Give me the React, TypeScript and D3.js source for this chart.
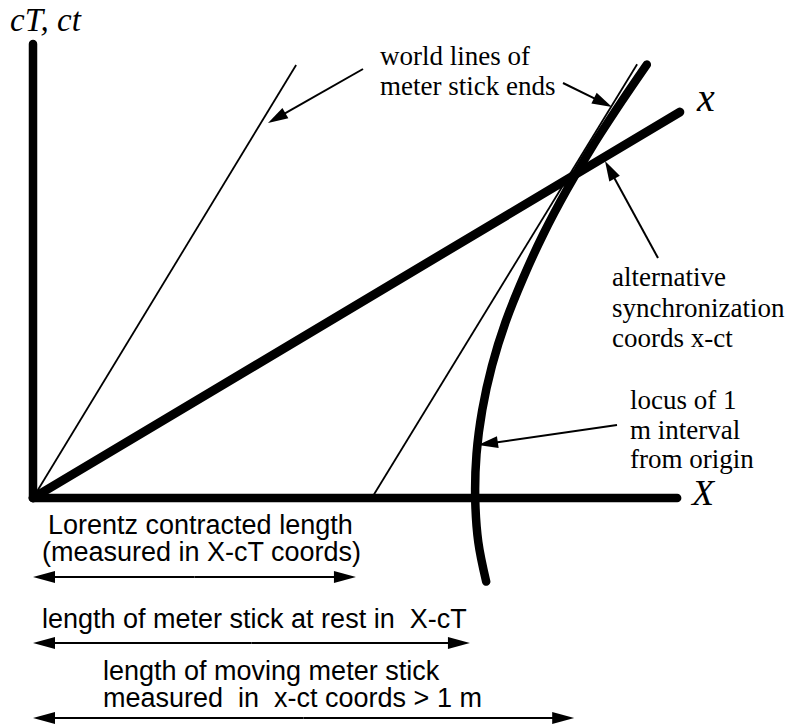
import React from "react";
import * as d3 from "d3";

// ---- data (units: 1 = rest length of the meter stick) ----
const restAxisT = [0, 1.032];
const restAxisX = [0, 1.464];
const movingAxisEnd = [1.47, 0.877];
const worldLineA = [[0, 0], [0.598, 0.984]];
const worldLineB = [[0.77, 0], [1.373, 0.986]];
const locusT = [-0.19, -0.1, 0, 0.1, 0.2, 0.3, 0.4, 0.5, 0.6, 0.7, 0.8, 0.9, 0.985];
const locusX = [1.03, 1.012, 1.005, 1.008, 1.021, 1.043, 1.074, 1.114, 1.16, 1.213, 1.272, 1.337, 1.395];
const spanLengths = [0.734, 0.993, 1.23];
const spanLabels = [
  ["Lorentz contracted length", "(measured in X-cT coords)"],
  ["length of meter stick at rest in  X-cT"],
  ["length of moving meter stick", "measured  in  x-ct coords > 1 m"],
];
const worldLabel = ["world lines of", "meter stick ends"];
const syncLabel = ["alternative", "synchronization", "coords x-ct"];
const locusLabel = ["locus of 1", "m interval", "from origin"];

const W = 788;
const H = 725;
const SERIF = "'Liberation Serif', 'Times New Roman', serif";
const SANS = "'Liberation Sans', Arial, sans-serif";

function Arrow({ x1, y1, x2, y2, head = 20, half = 6, width = 2 }) {
  const dx = x2 - x1;
  const dy = y2 - y1;
  const len = Math.hypot(dx, dy);
  const ux = dx / len;
  const uy = dy / len;
  const bx = x2 - ux * head;
  const by = y2 - uy * head;
  const px = -uy * half;
  const py = ux * half;
  return (
    <g>
      <line x1={x1} y1={y1} x2={bx + ux * 2} y2={by + uy * 2} stroke="#000" strokeWidth={width} />
      <polygon points={`${x2},${y2} ${bx + px},${by + py} ${bx - px},${by - py}`} fill="#000" />
    </g>
  );
}

function DoubleArrow({ x1, x2, y }) {
  return (
    <g>
      <Arrow x1={(x1 + x2) / 2} y1={y} x2={x1} y2={y} head={22} half={6} width={2.2} />
      <Arrow x1={(x1 + x2) / 2} y1={y} x2={x2} y2={y} head={22} half={6} width={2.2} />
    </g>
  );
}

export default function App() {
  const x = d3.scaleLinear().domain([0, 1]).range([33, 473]);
  const y = d3.scaleLinear().domain([0, 1]).range([498, 58]);

  const restAxisPath =
    d3.line()([
      [x(0), y(restAxisT[1])],
      [x(0), y(0)],
      [x(restAxisX[1]), y(0)],
    ]) || "";

  const locusPts = locusT.map((t, i) => [x(locusX[i]), y(t)] as [number, number]);
  const locusPath = d3.line().curve(d3.curveCatmullRom)(locusPts) || "";

  const spanY = [577, 643, 718];
  const labelLines = [
    [{ x: 48, y: 534 }, { x: 42, y: 561 }],
    [{ x: 42, y: 628 }],
    [{ x: 103, y: 680 }, { x: 103, y: 707 }],
  ];

  const serifText = (lines: string[], x0: number, y0: number, dy: number) =>
    lines.map((s, i) => (
      <text key={s} x={x0} y={y0 + i * dy} fontFamily={SERIF} fontSize={27} fill="#000">
        {s}
      </text>
    ));

  return (
    <svg
      width={W}
      height={H}
      viewBox={`0 0 ${W} ${H}`}
      style={{ position: "absolute", left: 0, top: 0, background: "#fff" }}
    >
      <rect width={W} height={H} fill="#fff" />

      {/* thin world lines */}
      <line
        x1={x(worldLineA[0][0])}
        y1={y(worldLineA[0][1])}
        x2={x(worldLineA[1][0])}
        y2={y(worldLineA[1][1])}
        stroke="#000"
        strokeWidth={1.8}
      />
      <line
        x1={x(worldLineB[0][0])}
        y1={y(worldLineB[0][1])}
        x2={x(worldLineB[1][0])}
        y2={y(worldLineB[1][1])}
        stroke="#000"
        strokeWidth={1.8}
      />

      {/* rest frame axes */}
      <path d={restAxisPath} fill="none" stroke="#000" strokeWidth={8.5} strokeLinejoin="round" strokeLinecap="round" />

      {/* moving x axis */}
      <line
        x1={x(0)}
        y1={y(0)}
        x2={x(movingAxisEnd[0])}
        y2={y(movingAxisEnd[1])}
        stroke="#000"
        strokeWidth={9}
        strokeLinecap="round"
      />

      {/* locus hyperbola */}
      <path d={locusPath} fill="none" stroke="#000" strokeWidth={8.5} strokeLinecap="round" />

      {/* axis labels */}
      <text x={10} y={31} fontFamily={SERIF} fontStyle="italic" fontSize={33} fill="#000">
        cT, ct
      </text>
      <text x={697} y={111} fontFamily={SERIF} fontStyle="italic" fontSize={40} fill="#000">
        x
      </text>
      <text x={692} y={505} fontFamily={SERIF} fontStyle="italic" fontSize={36} fill="#000">
        X
      </text>

      {/* annotations */}
      {serifText(worldLabel, 380, 65, 30)}
      {serifText(syncLabel, 612, 286, 30.5)}
      {serifText(locusLabel, 630, 409, 29.5)}

      <Arrow x1={363} y1={69} x2={268} y2={123} />
      <Arrow x1={563} y1={83} x2={612} y2={107} />
      <Arrow x1={658} y1={258} x2={605} y2={161} />
      <Arrow x1={617} y1={425} x2={478} y2={445} />

      {/* length spans */}
      {spanLengths.map((L, i) => (
        <g key={i}>
          {spanLabels[i].map((s, j) => (
            <text
              key={s}
              x={labelLines[i][j].x}
              y={labelLines[i][j].y}
              fontFamily={SANS}
              fontSize={27}
              fill="#000"
              style={{ whiteSpace: "pre" }}
            >
              {s}
            </text>
          ))}
          <DoubleArrow x1={x(0)} x2={x(L)} y={spanY[i]} />
        </g>
      ))}
    </svg>
  );
}
